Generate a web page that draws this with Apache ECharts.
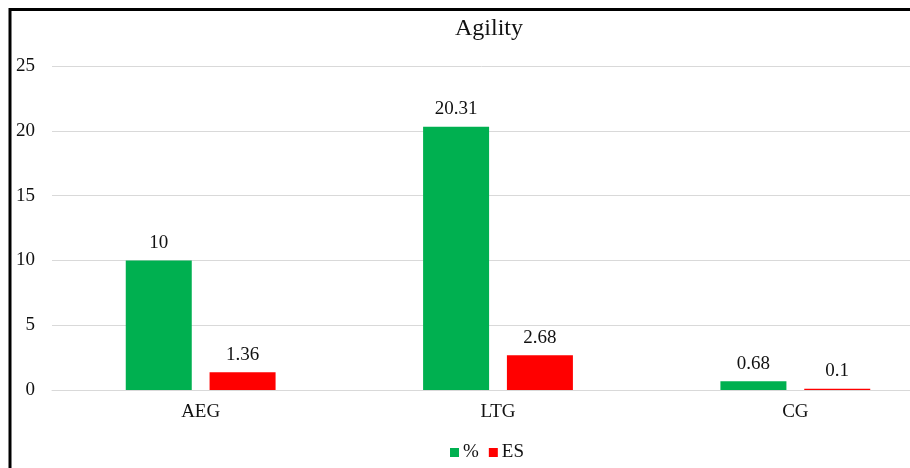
<!DOCTYPE html>
<html>
<head>
<meta charset="utf-8">
<script src="https://cdn.jsdelivr.net/npm/echarts@6/dist/echarts.min.js"></script>
<style>
  html, body { margin: 0; padding: 0; background: #fff; }
  #chart { width: 910px; height: 468px; }
</style>
</head>
<body>
<div id="chart"></div>
<script>
var categories = ['AEG', 'LTG', 'CG'];
var pctValues = [10, 20.31, 0.68];
var esValues = [1.36, 2.68, 0.1];

var font = '"Liberation Serif", "Times New Roman", serif';
var chart = echarts.init(document.getElementById('chart'));

var option = {
    backgroundColor: '#fff',
    animation: false,
    textStyle: { fontFamily: font },
    title: {
        text: 'Agility',
        left: 484,
        textAlign: 'center',
        top: 12,
        textStyle: { fontFamily: font, fontSize: 24, fontWeight: 'normal', color: '#111' }
    },
    legend: {
        data: ['%', 'ES'],
        left: 450,
        top: 443,
        padding: 0,
        itemWidth: 9,
        itemHeight: 9,
        itemGap: 10,
        icon: 'rect',
        textStyle: { fontFamily: font, fontSize: 19, color: '#111', padding: [0, 0, 0, -1] }
    },
    grid: {
        left: 52,
        width: 892,
        top: 66,
        bottom: 78,
        containLabel: false,
        outerBoundsMode: 'none'
    },
    xAxis: {
        type: 'category',
        data: categories,
        axisLine: { lineStyle: { color: '#d9d9d9', width: 1 } },
        axisTick: { show: false },
        axisLabel: { fontFamily: font, fontSize: 19, color: '#111', margin: 13 }
    },
    yAxis: {
        type: 'value',
        min: 0,
        max: 25,
        interval: 5,
        axisLine: { show: false },
        axisTick: { show: false },
        splitLine: { lineStyle: { color: '#d9d9d9', width: 1 } },
        axisLabel: { fontFamily: font, fontSize: 19, color: '#111', margin: 17 }
    },
    series: [
        {
            name: '%',
            type: 'bar',
            data: pctValues,
            barWidth: 66,
            barGap: '27%',
            itemStyle: { color: '#00b050' },
            label: { show: true, position: 'top', distance: 8, fontFamily: font, fontSize: 19, color: '#111' }
        },
        {
            name: 'ES',
            type: 'bar',
            data: esValues,
            barWidth: 66,
            barGap: '27%',
            itemStyle: { color: '#ff0000' },
            label: { show: true, position: 'top', distance: 8, fontFamily: font, fontSize: 19, color: '#111' }
        }
    ],
    graphic: [
        { type: 'line', shape: { x1: 10, y1: 9.5, x2: 910, y2: 9.5 }, style: { stroke: '#000', lineWidth: 3 } },
        { type: 'line', shape: { x1: 10, y1: 8, x2: 10, y2: 468 }, style: { stroke: '#000', lineWidth: 3 } }
    ]
};
chart.setOption(option);
</script>
</body>
</html>
